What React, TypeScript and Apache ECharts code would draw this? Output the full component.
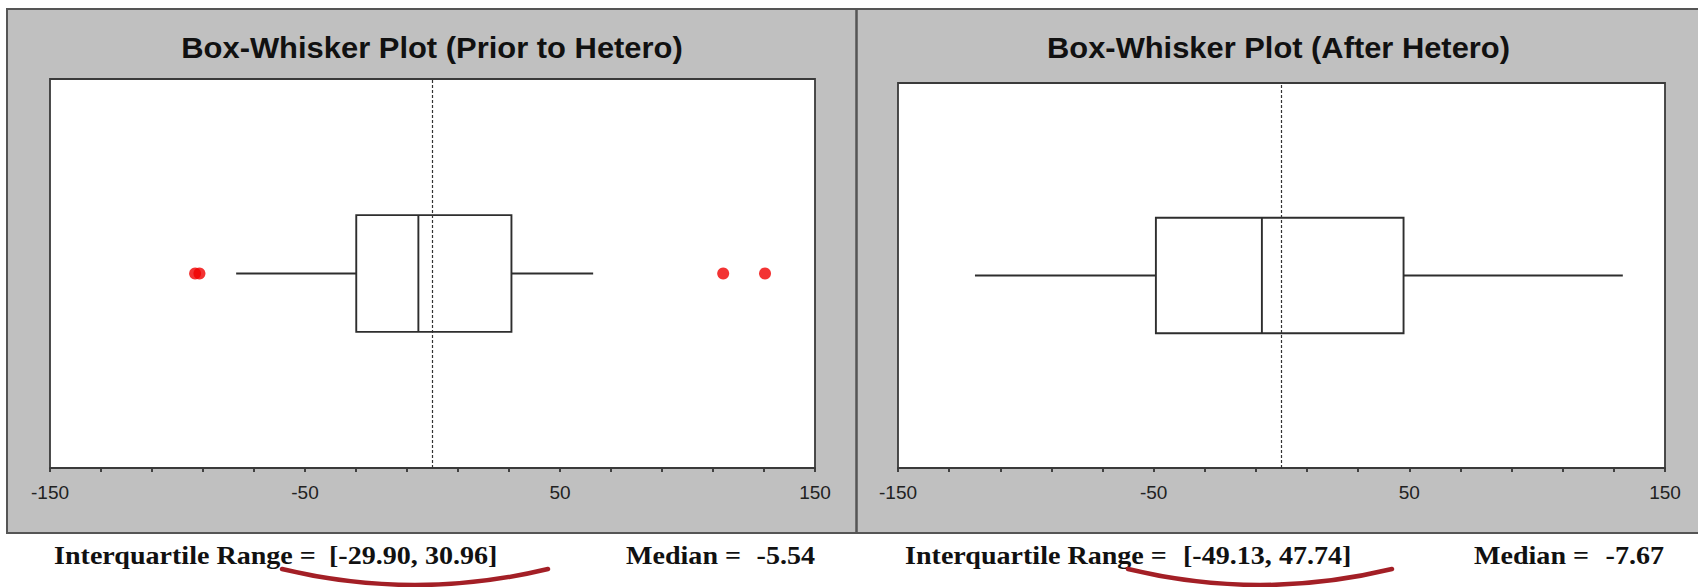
import React, { useEffect, useRef } from "react";
import * as echarts from "echarts";

// ---------- data ----------
const panelTitles = ["Box-Whisker Plot (Prior to Hetero)", "Box-Whisker Plot (After Hetero)"];
const categories = ["Residuals"];
// [lower whisker, Q1, median, Q3, upper whisker]
const priorBox = [-77.0, -29.9, -5.54, 30.96, 63.0];
const afterBox = [-119.9, -49.13, -7.67, 47.74, 133.5];
const priorOutliers = [-93.1, -91.4, 114.0, 130.4];
const afterOutliers: number[] = [];
const axisMin = -150;
const axisMax = 150;
const tickStep = 20;
const tickLabels = [-150, -50, 50, 150];
const referenceLine = 0;

const boxes = [priorBox, afterBox];
const outliers = [priorOutliers, afterOutliers];

// ---------- layout ----------
const panels = [
  {
    gridLeft: 50, gridTop: 79, gridW: 765, gridH: 389,
    titleCx: 432, titleW: 502,
    iqrX: 54, brX: 329, medX: 626, medValEnd: 815,
    arcX1: 282, arcX2: 548,
  },
  {
    gridLeft: 898, gridTop: 83, gridW: 767, gridH: 385,
    titleCx: 1278.5, titleW: 463,
    iqrX: 905, brX: 1183, medX: 1474, medValEnd: 1664,
    arcX1: 1128, arcX2: 1392,
  },
];

const TITLE_FONT = "Liberation Sans";
const NOTE_FONT = "Liberation Serif";
const TITLE_SIZE = 30;
const NOTE_SIZE = 26;
const NOTE_SCALE = 1.08;

function measure(text: string, font: string): number {
  const ctx = document.createElement("canvas").getContext("2d");
  if (!ctx) return 1;
  ctx.font = font;
  return ctx.measureText(text).width || 1;
}

function textEl(text: string, x: number, y: number, scaleX: number, size: number, family: string, align: string) {
  return {
    type: "text",
    x,
    y,
    scaleX,
    z: 10,
    style: {
      text,
      fill: "#111",
      fontSize: size,
      fontFamily: family,
      fontWeight: "bold",
      align,
      textAlign: align,
      verticalAlign: "middle",
      textVerticalAlign: "middle",
    },
  };
}

export default function App() {
  const ref = useRef<HTMLDivElement>(null);

  useEffect(() => {
    document.body.style.margin = "0";
    if (!ref.current) return;
    const chart = echarts.init(ref.current, undefined, { renderer: "svg" });

    // narrow axis-label font if available
    const narrowW = measure("-150", '20px "Liberation Sans Narrow", "Liberation Sans"');
    const regW = measure("-150", '20px "Liberation Sans"');
    const hasNarrow = narrowW < regW * 0.95;
    const labelFamily = hasNarrow ? '"Liberation Sans Narrow"' : "Liberation Sans";
    const labelSize = hasNarrow ? 20 : 19;

    const grids = panels.map((p) => ({
      left: p.gridLeft,
      top: p.gridTop,
      width: p.gridW,
      height: p.gridH,
      show: true,
      backgroundColor: "#ffffff",
      borderColor: "#3a3a3a",
      borderWidth: 1.8,
      z: 1,
    }));

    const xAxes = panels.map((_, i) => ({
      type: "value",
      gridIndex: i,
      min: axisMin,
      max: axisMax,
      interval: tickStep,
      axisLine: { show: true, onZero: false, lineStyle: { color: "#333", width: 1.8 } },
      axisTick: { show: true, inside: false, length: 4, lineStyle: { color: "#333", width: 1.8 } },
      splitLine: { show: false },
      axisLabel: {
        show: true,
        margin: 15,
        color: "#222",
        fontSize: labelSize,
        fontFamily: labelFamily,
        formatter: (v: number) => (tickLabels.includes(Math.round(v)) ? String(Math.round(v)) : ""),
      },
    }));

    const yAxes = panels.map((_, i) => ({
      type: "category",
      gridIndex: i,
      data: categories,
      show: false,
    }));

    const series: any[] = [];
    panels.forEach((_, i) => {
      series.push({
        type: "custom",
        xAxisIndex: i,
        yAxisIndex: i,
        encode: { x: [1, 2, 3, 4, 5], y: 0 },
        data: [[0, ...boxes[i]]],
        z: 3,
        renderItem: (params: any, api: any) => {
          const cat = api.value(0);
          const lo = api.coord([api.value(1), cat]);
          const q1 = api.coord([api.value(2), cat]);
          const md = api.coord([api.value(3), cat]);
          const q3 = api.coord([api.value(4), cat]);
          const hi = api.coord([api.value(5), cat]);
          const h = api.size([0, 1])[1] * 0.3;
          const cy = lo[1];
          const st = { stroke: "#2e2e2e", lineWidth: 1.9, fill: "none" };
          return {
            type: "group",
            children: [
              { type: "line", shape: { x1: lo[0], y1: cy, x2: q1[0], y2: cy }, style: st },
              { type: "line", shape: { x1: q3[0], y1: cy, x2: hi[0], y2: cy }, style: st },
              {
                type: "rect",
                shape: { x: q1[0], y: cy - h / 2, width: q3[0] - q1[0], height: h },
                style: { ...st, fill: "#ffffff" },
              },
              { type: "line", shape: { x1: md[0], y1: cy - h / 2, x2: md[0], y2: cy + h / 2 }, style: st },
            ],
          };
        },
      });
      series.push({
        type: "scatter",
        xAxisIndex: i,
        yAxisIndex: i,
        data: outliers[i].map((v) => [v, 0]),
        symbol: "circle",
        symbolSize: 12,
        itemStyle: { color: "#f00000" },
        z: 4,
        markLine: {
          silent: true,
          symbol: ["none", "none"],
          label: { show: false },
          lineStyle: { type: [3, 2], color: "#333", width: 1.2 },
          data: [{ xAxis: referenceLine }],
          z: 5,
        },
      });
    });

    const graphics: any[] = [
      {
        type: "rect",
        z: -10,
        shape: { x: 7, y: 9, width: 1720, height: 524 },
        style: { fill: "#c0c0c0", stroke: "#555", lineWidth: 2 },
      },
      {
        type: "line",
        z: -9,
        shape: { x1: 856.5, y1: 9, x2: 856.5, y2: 533 },
        style: { stroke: "#555", lineWidth: 2.5 },
      },
    ];

    panels.forEach((p, i) => {
      const b = boxes[i];
      const tw = measure(panelTitles[i], `bold ${TITLE_SIZE}px "${TITLE_FONT}"`);
      graphics.push(textEl(panelTitles[i], p.titleCx, 47, p.titleW / tw, TITLE_SIZE, TITLE_FONT, "center"));
      graphics.push(textEl("Interquartile Range =", p.iqrX, 555, NOTE_SCALE, NOTE_SIZE, NOTE_FONT, "left"));
      graphics.push(
        textEl(`[${b[1].toFixed(2)}, ${b[3].toFixed(2)}]`, p.brX, 555, NOTE_SCALE, NOTE_SIZE, NOTE_FONT, "left")
      );
      graphics.push(textEl("Median =", p.medX, 555, NOTE_SCALE, NOTE_SIZE, NOTE_FONT, "left"));
      graphics.push(textEl(b[2].toFixed(2), p.medValEnd, 555, NOTE_SCALE, NOTE_SIZE, NOTE_FONT, "right"));
      const mid = (p.arcX1 + p.arcX2) / 2;
      graphics.push({
        type: "bezierCurve",
        z: 10,
        shape: { x1: p.arcX1, y1: 569, x2: p.arcX2, y2: 569, cpx1: mid, cpy1: 601 },
        style: { stroke: "#a31f26", lineWidth: 4.5, fill: "none", lineCap: "round" },
      });
    });

    chart.setOption({
      animation: false,
      backgroundColor: "#ffffff",
      grid: grids,
      xAxis: xAxes,
      yAxis: yAxes,
      series,
      graphic: graphics,
    });

    return () => chart.dispose();
  }, []);

  return <div ref={ref} style={{ width: 1698, height: 587 }} />;
}
